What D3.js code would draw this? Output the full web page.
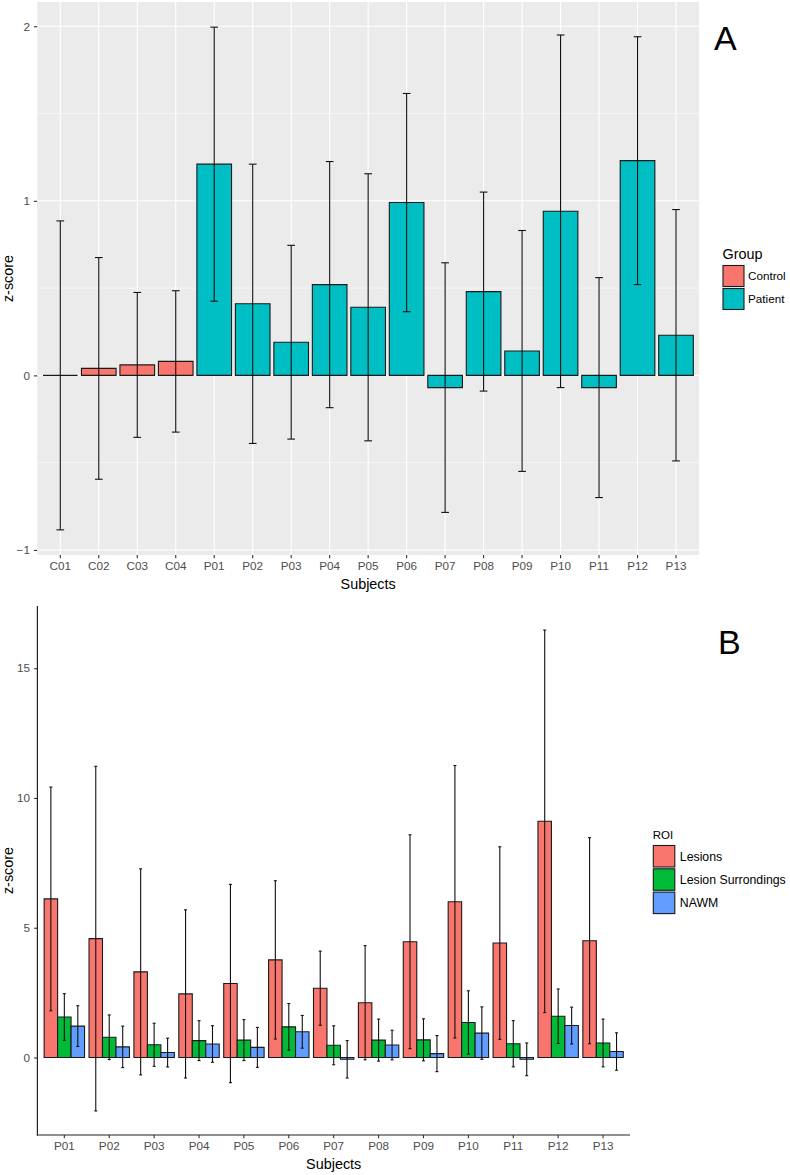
<!DOCTYPE html>
<html>
<head>
<meta charset="utf-8">
<script src="https://cdn.jsdelivr.net/npm/d3@7"></script>
<style>
  html, body { margin: 0; padding: 0; background: #fff; }
  svg { display: block; font-family: "Liberation Sans", Arial, Helvetica, sans-serif; }
</style>
</head>
<body>
<svg id="chart" width="790" height="1175"></svg>
<script>
// ---------- Panel A data ----------
const subjectsA = ["C01","C02","C03","C04","P01","P02","P03","P04","P05","P06","P07","P08","P09","P10","P11","P12","P13"];
const groupA    = ["Control","Control","Control","Control","Patient","Patient","Patient","Patient","Patient","Patient","Patient","Patient","Patient","Patient","Patient","Patient","Patient"];
const meanA     = [0.00, 0.04, 0.06, 0.08, 1.21, 0.41, 0.19, 0.52, 0.39, 0.99, -0.07, 0.48, 0.14, 0.94, -0.07, 1.23, 0.23];
const errA      = [0.885, 0.635, 0.415, 0.405, 0.785, 0.80, 0.555, 0.705, 0.765, 0.625, 0.715, 0.57, 0.69, 1.01, 0.63, 0.71, 0.72];
const groupsA   = ["Control", "Patient"];
const colorsA   = ["#F8766D", "#00BFC4"];
const yTicksA   = [-1, 0, 1, 2];
const yMinorA   = [-0.5, 0.5, 1.5];

// ---------- Panel B data ----------
const subjectsB   = ["P01","P02","P03","P04","P05","P06","P07","P08","P09","P10","P11","P12","P13"];
const roiNames    = ["Lesions", "Lesion Surrondings", "NAWM"];
const roiColors   = ["#F8766D", "#00BA38", "#619CFF"];
const lesions     = [6.11, 4.58, 3.30, 2.45, 2.85, 3.76, 2.67, 2.11, 4.46, 6.00, 4.41, 9.10, 4.50];
const lesionsErr  = [4.31, 6.64, 3.97, 3.24, 3.82, 3.05, 1.43, 2.20, 4.12, 5.25, 3.71, 7.37, 3.97];
const surround    = [1.56, 0.78, 0.49, 0.65, 0.67, 1.18, 0.47, 0.67, 0.68, 1.35, 0.53, 1.59, 0.56];
const surroundErr = [0.90, 0.86, 0.83, 0.77, 0.79, 0.90, 0.75, 0.81, 0.81, 1.22, 0.89, 1.05, 0.92];
const nawm        = [1.21, 0.41, 0.19, 0.52, 0.39, 0.99, -0.07, 0.48, 0.15, 0.94, -0.07, 1.23, 0.23];
const nawmErr     = [0.785, 0.80, 0.555, 0.705, 0.77, 0.63, 0.72, 0.57, 0.695, 1.01, 0.63, 0.71, 0.72];
const yTicksB     = [0, 5, 10, 15];

const svg = d3.select("#chart");
const FONT_TICK = 11.7, FONT_TITLE = 14.4;

function expandDomain(lo, hi) {
  const pad = (hi - lo) * 0.05;
  return [lo - pad, hi + pad];
}
function barPath(x0, x1, yv, y0) {
  return `M${x0},${y0}H${x1}V${yv}H${x0}Z`;
}

// ================= PANEL A =================
(function () {
  const L = 37.2, R = 699.1, T = 2, B = 555;
  const data = subjectsA.map((s, i) => ({ s, g: groupA[i], m: meanA[i], e: errA[i] }));
  const lo = d3.min(data, d => d.m - d.e), hi = d3.max(data, d => d.m + d.e);
  const y = d3.scaleLinear().domain(expandDomain(Math.min(lo, 0), hi)).range([B, T]);
  const x = d3.scaleBand().domain(subjectsA).range([L, R]).paddingInner(0).paddingOuter(0.1);
  const color = d3.scaleOrdinal().domain(groupsA).range(colorsA);
  const bw = x.bandwidth() * 0.9;
  const cx = s => x(s) + x.bandwidth() / 2;

  const g = svg.append("g");
  g.append("rect").attr("x", L).attr("y", T).attr("width", R - L).attr("height", B - T).attr("fill", "#EBEBEB");
  g.selectAll(".minor").data(yMinorA).join("line")
    .attr("x1", L).attr("x2", R).attr("y1", d => y(d)).attr("y2", d => y(d))
    .attr("stroke", "#fff").attr("stroke-width", 0.55);
  g.selectAll(".major").data(yTicksA).join("line")
    .attr("x1", L).attr("x2", R).attr("y1", d => y(d)).attr("y2", d => y(d))
    .attr("stroke", "#fff").attr("stroke-width", 1.1);
  g.selectAll(".vgrid").data(subjectsA).join("line")
    .attr("x1", d => cx(d)).attr("x2", d => cx(d)).attr("y1", T).attr("y2", B)
    .attr("stroke", "#fff").attr("stroke-width", 1.1);

  // bars
  g.selectAll(".bar").data(data).join("path")
    .attr("d", d => barPath(cx(d.s) - bw / 2, cx(d.s) + bw / 2, y(d.m), y(0)))
    .attr("fill", d => color(d.g)).attr("stroke", "#1a1a1a").attr("stroke-width", 1.1);

  // error bars
  const capW = x.bandwidth() * 0.2;
  const eb = g.selectAll(".eb").data(data).join("g").attr("stroke", "#111").attr("stroke-width", 1.1);
  eb.append("line").attr("x1", d => cx(d.s)).attr("x2", d => cx(d.s)).attr("y1", d => y(d.m + d.e)).attr("y2", d => y(d.m - d.e));
  eb.append("line").attr("x1", d => cx(d.s) - capW / 2).attr("x2", d => cx(d.s) + capW / 2).attr("y1", d => y(d.m + d.e)).attr("y2", d => y(d.m + d.e));
  eb.append("line").attr("x1", d => cx(d.s) - capW / 2).attr("x2", d => cx(d.s) + capW / 2).attr("y1", d => y(d.m - d.e)).attr("y2", d => y(d.m - d.e));

  // y axis
  const ya = g.append("g").attr("transform", `translate(${L},0)`)
    .call(d3.axisLeft(y).tickValues(yTicksA).tickSize(3.3).tickPadding(4).tickFormat(d3.format("d")));
  ya.select(".domain").remove();
  ya.selectAll("line").attr("stroke", "#333").attr("stroke-width", 1.1);
  ya.selectAll("text").attr("fill", "#4D4D4D").style("font-size", FONT_TICK + "px").attr("font-family", null);

  // x axis
  const xa = g.append("g").attr("transform", `translate(0,${B})`)
    .call(d3.axisBottom(x).tickSize(3.3).tickPadding(3));
  xa.select(".domain").remove();
  xa.selectAll("line").attr("stroke", "#333").attr("stroke-width", 1.1);
  xa.selectAll("text").attr("fill", "#4D4D4D").style("font-size", FONT_TICK + "px").attr("font-family", null);

  g.append("text").attr("x", (L + R) / 2).attr("y", 589).attr("text-anchor", "middle")
    .style("font-size", FONT_TITLE + "px").attr("fill", "#000").text("Subjects");
  g.append("text").attr("transform", `translate(13,${(T + B) / 2}) rotate(-90)`).attr("text-anchor", "middle")
    .style("font-size", FONT_TITLE + "px").attr("fill", "#000").text("z-score");

  // legend
  const lg = g.append("g").attr("transform", "translate(722.5,0)");
  lg.append("text").attr("x", 0).attr("y", 259).style("font-size", FONT_TITLE + "px").attr("fill", "#000").text("Group");
  const items = lg.selectAll(".li").data(groupsA).join("g").attr("transform", (d, i) => `translate(0,${265 + i * 23})`);
  items.append("rect").attr("x", 0.5).attr("y", 0.5).attr("width", 21).attr("height", 21)
    .attr("fill", d => color(d)).attr("stroke", "#1a1a1a").attr("stroke-width", 1.1);
  items.append("text").attr("x", 25.5).attr("y", 15.3).style("font-size", FONT_TICK + "px").attr("fill", "#000").text(d => d);

  g.append("text").attr("x", 714).attr("y", 50).style("font-size", "34px").attr("fill", "#000").text("A");
})();

// ================= PANEL B =================
(function () {
  const L = 37.4, R = 630, T = 606, B = 1135;
  const series = [
    { name: roiNames[0], mean: lesions,  err: lesionsErr },
    { name: roiNames[1], mean: surround, err: surroundErr },
    { name: roiNames[2], mean: nawm,     err: nawmErr }
  ];
  const data = [];
  subjectsB.forEach((s, i) => series.forEach(se => data.push({ s, roi: se.name, m: se.mean[i], e: se.err[i] })));
  const lo = d3.min(data, d => d.m - d.e), hi = d3.max(data, d => d.m + d.e);
  const y = d3.scaleLinear().domain(expandDomain(Math.min(lo, 0), hi)).range([B, T]);
  const x = d3.scaleBand().domain(subjectsB).range([L, R]).paddingInner(0).paddingOuter(0.1);
  const groupW = x.bandwidth() * 0.9;
  const xi = d3.scaleBand().domain(roiNames).range([0, groupW]);
  const color = d3.scaleOrdinal().domain(roiNames).range(roiColors);
  const left = s => x(s) + (x.bandwidth() - groupW) / 2;

  const g = svg.append("g");

  g.selectAll(".bar").data(data).join("path")
    .attr("d", d => barPath(left(d.s) + xi(d.roi), left(d.s) + xi(d.roi) + xi.bandwidth(), y(d.m), y(0)))
    .attr("fill", d => color(d.roi)).attr("stroke", "#1a1a1a").attr("stroke-width", 1.1);

  const capW = 3;
  const mx = d => left(d.s) + xi(d.roi) + xi.bandwidth() / 2;
  const eb = g.selectAll(".eb").data(data).join("g").attr("stroke", "#111").attr("stroke-width", 1.1);
  eb.append("line").attr("x1", mx).attr("x2", mx).attr("y1", d => y(d.m + d.e)).attr("y2", d => y(d.m - d.e));
  eb.append("line").attr("x1", d => mx(d) - capW / 2).attr("x2", d => mx(d) + capW / 2).attr("y1", d => y(d.m + d.e)).attr("y2", d => y(d.m + d.e));
  eb.append("line").attr("x1", d => mx(d) - capW / 2).attr("x2", d => mx(d) + capW / 2).attr("y1", d => y(d.m - d.e)).attr("y2", d => y(d.m - d.e));

  // axes
  const ya = g.append("g").attr("transform", `translate(${L},0)`)
    .call(d3.axisLeft(y).tickValues(yTicksB).tickSize(3.3).tickPadding(4).tickFormat(d3.format("d")));
  ya.select(".domain").remove();
  ya.selectAll("line").attr("stroke", "#333").attr("stroke-width", 1.1);
  ya.selectAll("text").attr("fill", "#4D4D4D").style("font-size", FONT_TICK + "px").attr("font-family", null);

  const xa = g.append("g").attr("transform", `translate(0,${B})`)
    .call(d3.axisBottom(x).tickSize(3.3).tickPadding(3));
  xa.select(".domain").remove();
  xa.selectAll("line").attr("stroke", "#333").attr("stroke-width", 1.1);
  xa.selectAll("text").attr("fill", "#4D4D4D").style("font-size", FONT_TICK + "px").attr("font-family", null);

  g.append("line").attr("x1", L).attr("x2", L).attr("y1", T).attr("y2", B + 0.55).attr("stroke", "#222").attr("stroke-width", 1.2);
  g.append("line").attr("x1", L - 0.6).attr("x2", R).attr("y1", B).attr("y2", B).attr("stroke", "#222").attr("stroke-width", 1.2);

  g.append("text").attr("x", (L + R) / 2).attr("y", 1169).attr("text-anchor", "middle")
    .style("font-size", FONT_TITLE + "px").attr("fill", "#000").text("Subjects");
  g.append("text").attr("transform", `translate(13,${(T + B) / 2}) rotate(-90)`).attr("text-anchor", "middle")
    .style("font-size", FONT_TITLE + "px").attr("fill", "#000").text("z-score");

  // legend
  const lg = g.append("g").attr("transform", "translate(652.8,0)");
  lg.append("text").attr("x", 0).attr("y", 839).style("font-size", "11.5px").attr("fill", "#000").text("ROI");
  const items = lg.selectAll(".li").data(roiNames).join("g").attr("transform", (d, i) => `translate(0,${845 + i * 23.3})`);
  items.append("rect").attr("x", 0.5).attr("y", 0.5).attr("width", 21.5).attr("height", 21.5)
    .attr("fill", d => color(d)).attr("stroke", "#1a1a1a").attr("stroke-width", 1.1);
  items.append("text").attr("x", 27).attr("y", 15.8).style("font-size", "12.3px").attr("fill", "#000").text(d => d);

  g.append("text").attr("x", 718).attr("y", 654).style("font-size", "34px").attr("fill", "#000").text("B");
})();
</script>
</body>
</html>
